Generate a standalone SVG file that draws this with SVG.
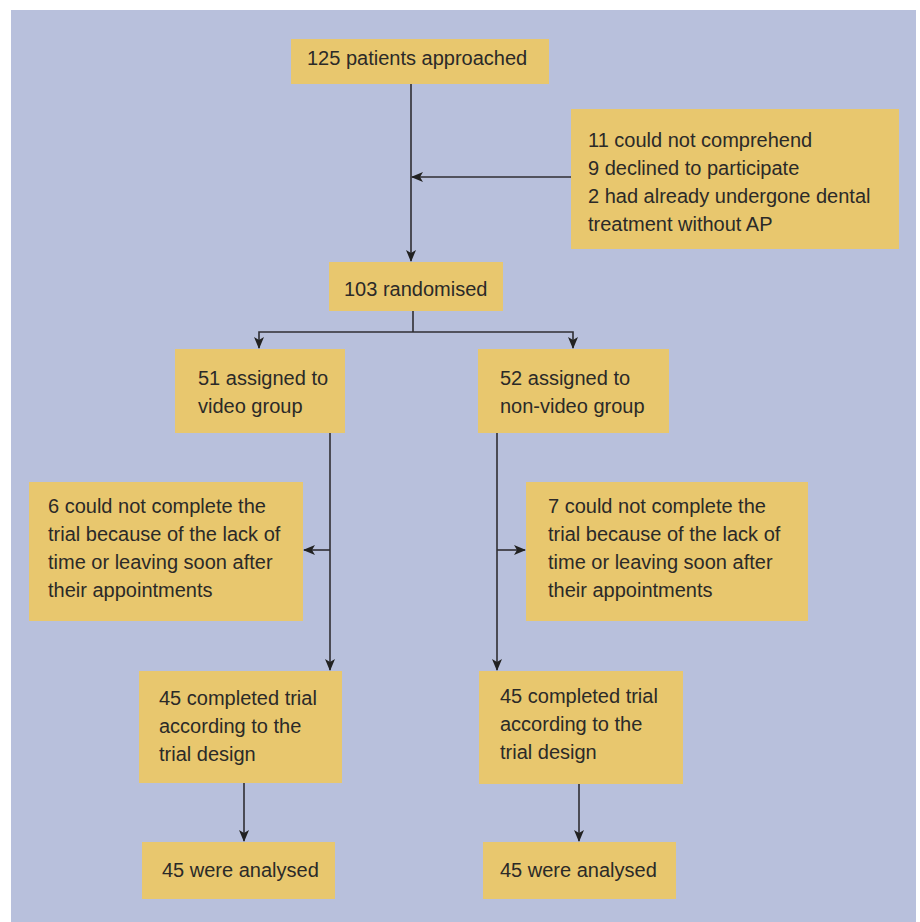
<svg xmlns="http://www.w3.org/2000/svg" width="920" height="922" viewBox="0 0 920 922">
<defs>
<style>
.box{fill:#e8c76e;}
.t{font-family:"Liberation Sans",Arial,sans-serif;font-size:20px;fill:#2b2a28;}
.c{fill:none;stroke:#2f2e33;stroke-width:1.6;}
</style>
<marker id="ah" viewBox="0 0 12 10" refX="11" refY="5" markerWidth="12" markerHeight="10" markerUnits="userSpaceOnUse" orient="auto">
<path d="M0,0 L12,5 L0,10 L3,5 Z" fill="#222"/>
</marker>
</defs>
<rect x="0" y="0" width="920" height="922" fill="#ffffff"/>
<rect x="11" y="10" width="905" height="912" fill="#b8c0dc"/>
<g id="connectors">
<line class="c" x1="411" y1="84" x2="411" y2="261" marker-end="url(#ah)"/>
<line class="c" x1="571" y1="177" x2="412" y2="177" marker-end="url(#ah)"/>
<polyline class="c" points="413,311 413,332"/>
<polyline class="c" points="413,332 259,332 259,348" marker-end="url(#ah)"/>
<polyline class="c" points="413,332 573,332 573,348" marker-end="url(#ah)"/>
<line class="c" x1="330" y1="433" x2="330" y2="670" marker-end="url(#ah)"/>
<line class="c" x1="330" y1="550" x2="304" y2="550" marker-end="url(#ah)"/>
<line class="c" x1="497" y1="433" x2="497" y2="670" marker-end="url(#ah)"/>
<line class="c" x1="497" y1="550" x2="525" y2="550" marker-end="url(#ah)"/>
<line class="c" x1="244" y1="783" x2="244" y2="841" marker-end="url(#ah)"/>
<line class="c" x1="579" y1="784" x2="579" y2="841" marker-end="url(#ah)"/>
</g>
<g id="approached">
<rect class="box" x="291" y="39" width="258" height="45"/>
<text class="t" x="307" y="65">125 patients approached</text>
</g>
<g id="excluded">
<rect class="box" x="571" y="109" width="328" height="140"/>
<text class="t" x="588" y="147">11 could not comprehend</text>
<text class="t" x="588" y="175">9 declined to participate</text>
<text class="t" x="588" y="203">2 had already undergone dental</text>
<text class="t" x="588" y="231">treatment without AP</text>
</g>
<g id="randomised">
<rect class="box" x="329" y="262" width="174" height="49"/>
<text class="t" x="344" y="296">103 randomised</text>
</g>
<g id="video">
<rect class="box" x="175" y="349" width="170" height="84"/>
<text class="t" x="198" y="385">51 assigned to</text>
<text class="t" x="198" y="413">video group</text>
</g>
<g id="nonvideo">
<rect class="box" x="478" y="349" width="191" height="84"/>
<text class="t" x="500" y="385">52 assigned to</text>
<text class="t" x="500" y="413">non-video group</text>
</g>
<g id="lostvideo">
<rect class="box" x="29" y="482" width="274" height="139"/>
<text class="t" x="48" y="513">6 could not complete the</text>
<text class="t" x="48" y="541">trial because of the lack of</text>
<text class="t" x="48" y="569">time or leaving soon after</text>
<text class="t" x="48" y="597">their appointments</text>
</g>
<g id="lostnonvideo">
<rect class="box" x="526" y="482" width="282" height="139"/>
<text class="t" x="548" y="513">7 could not complete the</text>
<text class="t" x="548" y="541">trial because of the lack of</text>
<text class="t" x="548" y="569">time or leaving soon after</text>
<text class="t" x="548" y="597">their appointments</text>
</g>
<g id="completedvideo">
<rect class="box" x="139" y="671" width="203" height="112"/>
<text class="t" x="159" y="705">45 completed trial</text>
<text class="t" x="159" y="733">according to the</text>
<text class="t" x="159" y="761">trial design</text>
</g>
<g id="completednonvideo">
<rect class="box" x="479" y="671" width="204" height="113"/>
<text class="t" x="500" y="703">45 completed trial</text>
<text class="t" x="500" y="731">according to the</text>
<text class="t" x="500" y="759">trial design</text>
</g>
<g id="analysedvideo">
<rect class="box" x="142" y="842" width="193" height="57"/>
<text class="t" x="162" y="877">45 were analysed</text>
</g>
<g id="analysednonvideo">
<rect class="box" x="483" y="842" width="193" height="57"/>
<text class="t" x="500" y="877">45 were analysed</text>
</g>
</svg>
